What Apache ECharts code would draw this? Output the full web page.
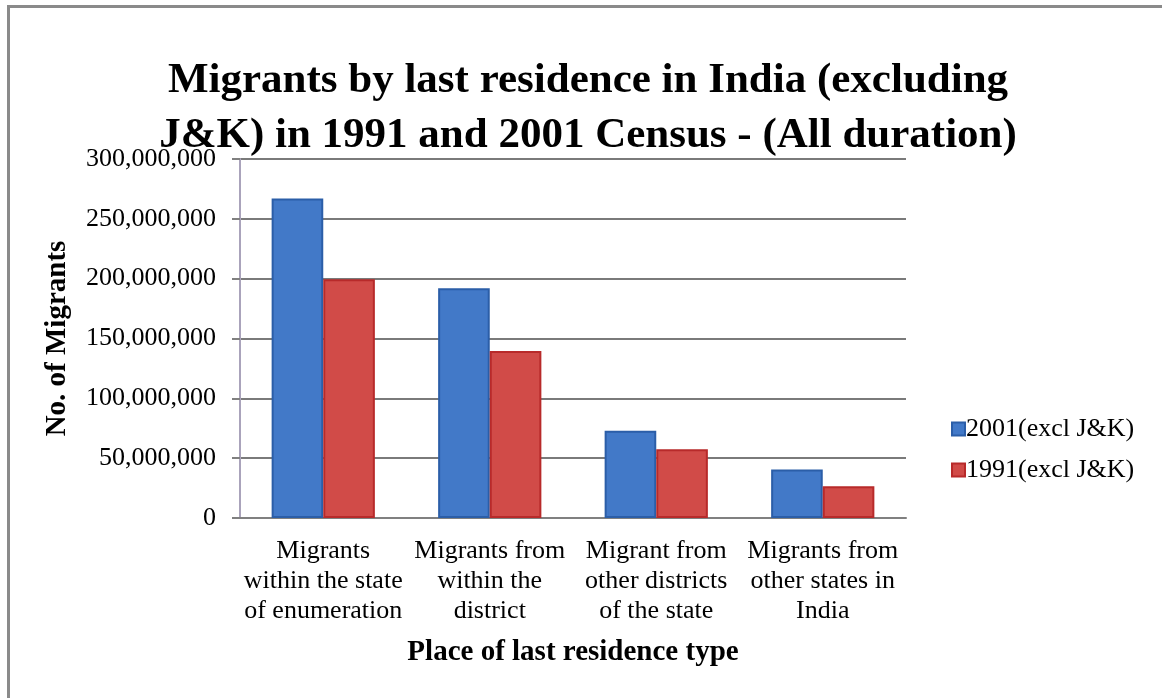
<!DOCTYPE html>
<html lang="en">
<head>
  <meta charset="UTF-8">
  <script type="text/javascript" src="https://cdn.jsdelivr.net/npm/echarts@6/dist/echarts.min.js"></script>
  <title>Migrants by last residence</title>
  <style type="text/css">
    * { margin: 0; padding: 0; }
    html, body { width: 100%; height: 100%; background-color: #fff; }
    #frame {
      position: absolute; left: 7px; top: 5px; right: 0; bottom: 0;
      border-top: 3px solid #8a8a8a; border-left: 3px solid #8a8a8a;
    }
    #chart { position: absolute; left: 0; top: 0; width: 1162px; height: 698px; }
  </style>
</head>
<body>
<div id="frame"></div>
<div id="chart"></div>
<script type="text/javascript">
  var categories = [
    'Migrants\nwithin the state\nof enumeration',
    'Migrants from\nwithin the\ndistrict',
    'Migrant from\nother districts\nof the state',
    'Migrants from\nother states in\nIndia'
  ]
  var values2001 = [267000000, 192000000, 73000000, 40500000]
  var values1991 = [199500000, 139500000, 57500000, 26500000]
  var seriesNames = ['2001(excl J&K)', '1991(excl J&K)']

  var serif = '"Liberation Serif", "DejaVu Serif", serif'
  var myChart = echarts.init(document.getElementById('chart'))
  var option = {
    animation: false,
    textStyle: { fontFamily: serif },
    title: {
      text: 'Migrants by last residence in India (excluding\nJ&K) in 1991 and 2001 Census - (All duration)',
      left: 583,
      textAlign: 'center',
      top: 48,
      textStyle: { fontFamily: serif, fontSize: 43, fontWeight: 'bold', color: '#000', lineHeight: 55 }
    },
    legend: {
      orient: 'vertical',
      left: 946,
      top: 411,
      itemGap: 15,
      itemWidth: 13,
      itemHeight: 13,
      icon: 'rect',
      textStyle: { fontFamily: serif, fontSize: 26, lineHeight: 26, color: '#000', padding: [0, 0, 0, -4] },
      data: seriesNames
    },
    grid: { left: 240, right: 256, top: 159, bottom: 180 },
    xAxis: {
      type: 'category',
      data: categories,
      name: 'Place of last residence type',
      nameLocation: 'middle',
      nameGap: 120,
      nameTextStyle: { fontFamily: serif, fontSize: 29, fontWeight: 'bold', color: '#000' },
      axisLine: { lineStyle: { color: '#808080', width: 2 } },
      axisTick: { show: false },
      axisLabel: { fontFamily: serif, fontSize: 26, color: '#000', lineHeight: 30, margin: 18, interval: 0 }
    },
    yAxis: {
      type: 'value',
      min: 0,
      max: 300000000,
      interval: 50000000,
      name: 'No. of Migrants',
      nameLocation: 'middle',
      nameGap: 168,
      nameTextStyle: { fontFamily: serif, fontSize: 29, fontWeight: 'bold', color: '#000' },
      axisLine: { show: true, lineStyle: { color: '#aaa3bb', width: 2 } },
      axisTick: { show: true, length: 8, lineStyle: { color: '#808080', width: 2 } },
      splitLine: { lineStyle: { color: '#7a7a7a', width: 2 } },
      axisLabel: {
        fontFamily: serif, fontSize: 26, color: '#000', margin: 24,
        formatter: function (v) { return v.toLocaleString('en-US') }
      }
    },
    series: [
      {
        name: seriesNames[0],
        type: 'bar',
        data: values2001,
        barGap: '0%',
        barCategoryGap: '38%',
        itemStyle: { color: '#4279c8', borderColor: '#2b5ea8', borderWidth: 2 }
      },
      {
        name: seriesNames[1],
        type: 'bar',
        data: values1991,
        itemStyle: { color: '#d14b48', borderColor: '#b82a2a', borderWidth: 2 }
      }
    ]
  };
  myChart.setOption(option);
</script>
</body>
</html>
